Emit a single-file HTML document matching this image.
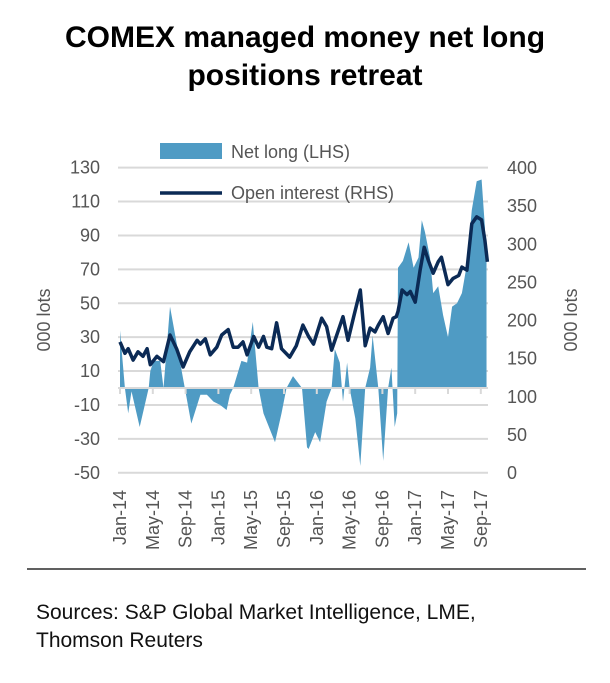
<!DOCTYPE html>
<html><head><meta charset="utf-8"><style>
body{margin:0;background:#fff;width:610px;height:678px;overflow:hidden;font-family:"Liberation Sans",sans-serif}
</style></head><body>
<svg id="chart" width="610" height="678" xmlns="http://www.w3.org/2000/svg" font-family="Liberation Sans, sans-serif">
<text x="305" y="47" text-anchor="middle" font-size="30" font-weight="bold" fill="#000">COMEX managed money net long</text>
<text x="305" y="85" text-anchor="middle" font-size="30" font-weight="bold" fill="#000">positions retreat</text>
<g id="grid"></g>
<g id="area"></g>
<g id="line"></g>
<g id="axes"></g>
<rect x="160" y="143" width="62" height="16" fill="#4f9bc4"/>
<text x="231" y="158" font-size="18" fill="#555">Net long (LHS)</text>
<line x1="160" y1="193" x2="222" y2="193" stroke="#0b2a55" stroke-width="3.5"/>
<text x="231" y="199" font-size="18" fill="#555">Open interest (RHS)</text>
<text transform="translate(50,320) rotate(-90)" text-anchor="middle" font-size="18" fill="#555">000 lots</text>
<text transform="translate(577,320) rotate(-90)" text-anchor="middle" font-size="18" fill="#555">000 lots</text>
<line x1="27" y1="569" x2="586" y2="569" stroke="#000" stroke-width="1.2"/>
<text x="36" y="619" font-size="21" fill="#111">Sources: S&amp;P Global Market Intelligence, LME,</text>
<text x="36" y="647" font-size="21" fill="#111">Thomson Reuters</text>
</svg>
<script>
const leftTicks=[130,110,90,70,50,30,10,-10,-30,-50];
const rightTicks=[400,350,300,250,200,150,100,50,0];
const xLabels=["Jan-14","May-14","Sep-14","Jan-15","May-15","Sep-15","Jan-16","May-16","Sep-16","Jan-17","May-17","Sep-17"];
const netMonths=[0,0.6,1.0,1.4,2.4,3.5,3.7,4.1,4.9,5.3,6.1,7.9,8.7,9.8,10.6,11.4,12.2,13.0,13.4,13.8,14.8,15.5,16.2,16.9,17.5,18.9,19.7,20.3,21.1,22.2,22.8,23.0,23.8,24.4,25.2,25.8,26.2,26.8,27.2,27.7,28.0,28.7,29.3,29.9,30.5,30.8,31.5,32.1,32.7,33.1,33.5,33.8,33.9,34.5,35.2,35.8,36.4,36.8,37.2,37.8,38.2,38.8,39.4,40.0,40.5,41.1,41.7,42.3,42.9,43.5,44.1,44.5,44.7];
const netValues=[34,0,-15,-2,-23,0,10,16,16,0,48,0,-21,-4,-4,-8,-10,-13,-4,0,16,15,39,0,-15,-32,-15,0,7,0,-35,-36,-26,-32,-8,0,23,15,-8,15,0,-18,-46,0,12,31,0,-43,0,12,-23,-15,71,75,86,71,77,99,92,77,56,60,43,30,48,50,56,73,105,122,123,95,75];
const oiMonths=[0,0.6,1.0,1.6,2.2,2.8,3.3,3.7,4.5,5.3,6.1,6.9,7.7,8.5,9.4,9.8,10.4,11.0,11.8,12.4,13.2,13.8,14.4,15.0,15.5,16.3,16.9,17.5,17.9,18.5,19.1,19.7,20.7,21.5,22.3,23.0,23.6,24.6,25.2,25.8,27.2,27.8,28.5,29.3,29.9,30.5,31.1,31.5,32.1,32.7,33.3,33.7,33.9,34.4,35.0,35.4,36.0,36.6,37.1,37.6,38.2,38.8,39.2,40.0,40.6,41.3,41.7,42.3,42.9,43.5,44.1,44.5,44.8];
const oiValues=[172,157,163,148,159,153,163,142,153,146,181,163,139,159,174,169,176,155,165,181,188,165,165,172,155,179,165,179,165,163,197,163,152,167,194,179,169,203,192,161,205,174,205,240,167,190,185,194,205,183,203,205,212,240,234,238,224,266,296,279,262,277,283,247,255,259,270,266,327,336,332,305,277];

const NS="http://www.w3.org/2000/svg";
const X0=120, PXM=8.2, PL=118, PR=488;
const yL=v=>388-(v)*1.695;
const yR=v=>473-v*0.7625;
const xM=m=>X0+m*PXM;
function mk(tag,attrs,parent){const e=document.createElementNS(NS,tag);for(const k in attrs)e.setAttribute(k,attrs[k]);parent.appendChild(e);return e;}
const grid=document.getElementById('grid'), axes=document.getElementById('axes');
leftTicks.forEach(t=>{
  const l=mk('line',{x1:PL,x2:PR,y1:yL(t),y2:yL(t),stroke:'#d9d9d9','stroke-width':2},grid);
  
  
  const tx=mk('text',{x:100,y:yL(t)+6,'text-anchor':'end','font-size':18,fill:'#555'},axes);
  tx.textContent=t;
  
  
});
rightTicks.forEach(t=>{
  const tx=mk('text',{x:507,y:yR(t)+6,'font-size':18,fill:'#555'},axes);
  tx.textContent=t;
  
  
});
let d='M'+xM(netMonths[0])+','+yL(0);
netMonths.forEach((m,i)=>{d+=' L'+xM(m).toFixed(1)+','+yL(netValues[i]).toFixed(1);});
d+=' L'+xM(netMonths[netMonths.length-1])+','+yL(0)+' Z';
const a=mk('path',{d:d,fill:'#4f9bc4'},document.getElementById('area'));


const za=mk('line',{x1:PL,x2:PR,y1:yL(0),y2:yL(0),stroke:'#d9d9d9','stroke-width':2},axes);


xLabels.forEach((lab,i)=>{
  const x=xM(i*4);
  const tk=mk('line',{x1:x,x2:x,y1:yL(0),y2:yL(0)+6,stroke:'#d9d9d9','stroke-width':2},axes);
  
  
  const tx=mk('text',{transform:'translate('+(x+6)+',490) rotate(-90)','text-anchor':'end','font-size':18,fill:'#555'},axes);
  tx.textContent=lab;
  
  
});
const pts=oiMonths.map((m,i)=>xM(m).toFixed(1)+','+yR(oiValues[i]).toFixed(1)).join(' ');
const pl=mk('polyline',{points:pts,fill:'none',stroke:'#0b2a55','stroke-width':3.5,'stroke-linejoin':'round'},document.getElementById('line'));


</script>
</body></html>
